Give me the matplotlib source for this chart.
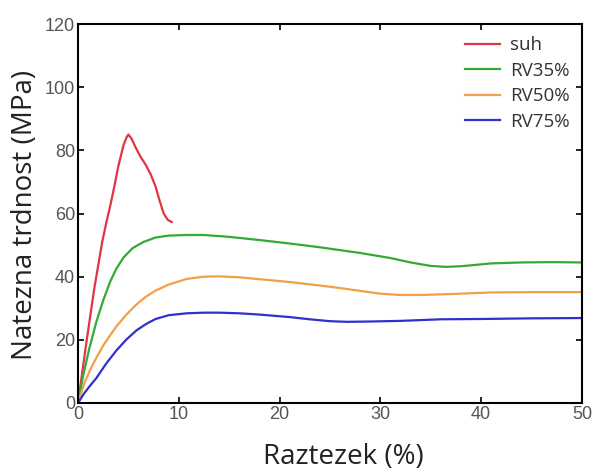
import matplotlib
matplotlib.use("Agg")
import matplotlib.pyplot as plt
import numpy as np

# podatki odčitani s slike
suh_x = [0, 0.8, 1.6, 2.4, 2.8, 3.2, 3.6, 4.0, 4.5, 4.8, 5.0, 5.3, 5.7, 6.2, 6.7, 7.2,
         7.7, 8.1, 8.5, 8.9, 9.3]
suh_y = [0, 18.5, 36, 51, 57, 62.5, 68.5, 75, 81.5, 84, 85, 83.8, 81, 78, 75.5, 72.5,
         68.5, 64, 60, 58, 57.3]

rv35_x = [0, 0.5, 1.1, 1.8, 2.5, 3.2, 3.8, 4.5, 5.4, 6.5, 7.7, 9, 10.8, 12.5, 15, 18, 21,
          24, 26, 28, 31, 33, 35, 36.5, 38, 41, 44, 47, 50]
rv35_y = [0, 8.5, 17, 25.5, 32.5, 38.5, 42.5, 46, 49, 51, 52.4, 53, 53.2, 53.2, 52.6, 51.6, 50.5,
          49.3, 48.4, 47.5, 45.9, 44.5, 43.4, 43.1, 43.3, 44.2, 44.5, 44.6, 44.5]

rv50_x = [0, 0.6, 1.2, 1.8, 2.5, 3.2, 3.8, 4.8, 5.8, 6.7, 7.7, 9, 10.8, 12.5, 14, 16, 18,
          21, 24, 26, 28, 30, 32, 34, 37, 41, 45, 50]
rv50_y = [0, 6, 10.5, 14.2, 18.2, 21.5, 24.2, 28, 31.2, 33.6, 35.6, 37.5, 39.3, 40, 40.1, 39.8, 39.2,
          38.3, 37.2, 36.4, 35.5, 34.6, 34.2, 34.2, 34.5, 35, 35.1, 35.1]

rv75_x = [0, 0.6, 1.2, 1.8, 2.8, 3.8, 4.8, 5.8, 6.8, 7.7, 9, 10.8, 12.5, 14, 16, 18, 21,
          23, 25, 26.7, 29, 32, 36, 40, 45, 50]
rv75_y = [0, 3, 5.5, 7.8, 12.5, 16.6, 20.1, 23, 25.1, 26.6, 27.8, 28.4, 28.6, 28.6, 28.4, 28, 27.2,
          26.5, 25.9, 25.7, 25.8, 26, 26.5, 26.6, 26.8, 26.9]

oznake = ['suh', 'RV35%', 'RV50%', 'RV75%']
barve = ['#e03545', '#33aa33', '#f2a048', '#3030d0']

fig = plt.figure(figsize=(5.92, 4.71), dpi=100)
ax = fig.add_axes([0.1318, 0.1444, 0.8512, 0.8046])

serije = [(suh_x, suh_y), (rv35_x, rv35_y), (rv50_x, rv50_y), (rv75_x, rv75_y)]
for (x, y), lab, c in zip(serije, oznake, barve):
    ax.plot(x, y, color=c, lw=1.6, label=lab, solid_joinstyle='round')

ax.set_xlim(0, 50)
ax.set_ylim(0, 120)
ax.set_xticks(np.arange(0, 51, 10))
ax.set_yticks(np.arange(0, 121, 20))
ax.tick_params(direction='in', top=True, right=True, length=4, width=1.2,
               labelsize=13, labelcolor='#555555', pad=2)
for lbl in ax.get_xticklabels() + ax.get_yticklabels():
    lbl.set_family('Liberation Sans')
for s in ax.spines.values():
    s.set_linewidth(1.5)

ax.set_xlabel('Raztezek (%)', fontsize=20, family='Open Sans', color='#222222', va='center')
ax.set_ylabel('Natezna trdnost (MPa)', fontsize=20, family='Open Sans', color='#222222',
              va='center', ha='center')
ax.xaxis.set_label_coords(0.527, -0.143)
ax.yaxis.set_label_coords(-0.105, 0.495)

leg = ax.legend(loc='upper right', frameon=False,
                prop={'family': 'Open Sans', 'size': 13.5}, handlelength=1.85,
                handletextpad=0.55, labelspacing=0.4, borderaxespad=0.25)
for t in leg.get_texts():
    t.set_color('#333333')

fig.savefig('out.png', dpi=100)
